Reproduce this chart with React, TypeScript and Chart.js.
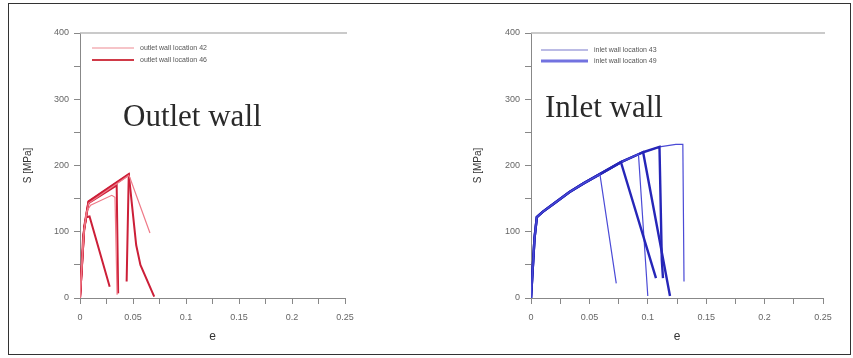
import React, { useEffect, useRef } from "react";
import { Chart, registerables } from "chart.js";
Chart.register(...registerables);

// ---------- data: outlet wall (strain e, stress S [MPa]) ----------
const outlet42A: number[][] = [[0, 0], [0.003, 90], [0.006, 130], [0.01, 140], [0.03, 155], [0.033, 152], [0.035, 5]];
const outlet42B: number[][] = [[0, 0], [0.004, 105], [0.008, 143], [0.046, 185], [0.047, 182], [0.066, 98]];
const outlet46A: number[][] = [[0, 0], [0.003, 95], [0.006, 122], [0.009, 123], [0.028, 17]];
const outlet46B: number[][] = [[0, 0], [0.004, 105], [0.008, 143], [0.0346, 170], [0.036, 7]];
const outlet46C: number[][] = [[0, 0], [0.004, 105], [0.008, 145], [0.046, 186], [0.044, 25]];
const outlet46D: number[][] = [[0, 0], [0.004, 108], [0.008, 146], [0.046, 187], [0.053, 80], [0.057, 50], [0.07, 2]];

// ---------- data: inlet wall ----------
const inletHardE = [0, 0.003, 0.005, 0.01, 0.02, 0.033, 0.045, 0.059, 0.077, 0.092, 0.096, 0.11, 0.124];
const inletHardS = [0, 90, 122, 130, 143, 160, 173, 187, 205, 217, 220, 228, 232];
const inlet43A: number[][] = [[0.059, 187], [0.073, 22]];
const inlet49A: number[][] = [[0.077, 205], [0.107, 30]];
const inlet43B: number[][] = [[0.092, 217], [0.1, 3]];
const inlet49B: number[][] = [[0.096, 220], [0.119, 3]];
const inlet49C: number[][] = [[0.11, 228], [0.112, 57], [0.113, 30]];
const inlet43C: number[][] = [[0.124, 232], [0.13, 232], [0.131, 25]];

// ---------- axis ticks ----------
const yTicks = [0, 100, 200, 300, 400];
const xTickLabels = ["0", "0.05", "0.1", "0.15", "0.2", "0.25"];

// ---------- legends / labels ----------
const outletLegend = ["outlet wall location 42", "outlet wall location 46"];
const inletLegend = ["inlet wall location 43", "inlet wall location 49"];

function curveUpTo(ptsE: number[], ptsS: number[], tail: number[][]) {
  const endE = tail[0][0];
  const out: { x: number; y: number }[] = [];
  for (let i = 0; i < ptsE.length; i++) {
    if (ptsE[i] < endE) out.push({ x: ptsE[i], y: ptsS[i] });
  }
  tail.forEach((p) => out.push({ x: p[0], y: p[1] }));
  return out;
}
const toXY = (a: number[][]) => a.map((p) => ({ x: p[0], y: p[1] }));

type Panel = {
  left: number;
  width: number;
  padLeft: number;
  padRight: number;
  yWidth: number;
  datasets: any[];
  legend: string[];
  legendColors: string[];
  legendWidths: number[];
  legendX: number;
  legendY: number[];
  legendLen: number;
  note: string;
  noteX: number;
  noteY: number;
};

function ChartPanel({ p }: { p: Panel }) {
  const ref = useRef<HTMLCanvasElement>(null);
  useEffect(() => {
    if (!ref.current) return;
    const overlay = {
      id: "overlay",
      afterDraw(chart: any) {
        const ctx = chart.ctx;
        const a = chart.chartArea;
        ctx.save();
        // top frame line
        ctx.strokeStyle = "#b8b8b8";
        ctx.lineWidth = 1.5;
        ctx.beginPath();
        ctx.moveTo(a.left, a.top);
        ctx.lineTo(a.right + 2, a.top);
        ctx.stroke();
        // legend
        ctx.font = "7px 'Liberation Sans', sans-serif";
        ctx.textBaseline = "middle";
        p.legend.forEach((t, i) => {
          const y = p.legendY[i];
          ctx.strokeStyle = p.legendColors[i];
          ctx.lineWidth = p.legendWidths[i];
          ctx.beginPath();
          ctx.moveTo(p.legendX - p.left, y);
          ctx.lineTo(p.legendX - p.left + p.legendLen, y);
          ctx.stroke();
          ctx.fillStyle = "#555";
          ctx.fillText(t, p.legendX - p.left + p.legendLen + 6, y);
        });
        // annotation
        ctx.font = "31px 'Liberation Serif', serif";
        ctx.fillStyle = "#2a2a2a";
        ctx.textBaseline = "alphabetic";
        ctx.fillText(p.note, p.noteX - p.left, p.noteY);
        ctx.restore();
      },
    };
    const chart = new Chart(ref.current, {
      type: "scatter",
      data: { datasets: p.datasets },
      plugins: [overlay],
      options: {
        animation: false,
        responsive: false,
        maintainAspectRatio: false,
        layout: { padding: { top: 33, left: p.padLeft, right: p.padRight, bottom: 10 } },
        plugins: { legend: { display: false }, tooltip: { enabled: false } },
        elements: { point: { radius: 0 }, line: { tension: 0 } },
        scales: {
          x: {
            type: "linear",
            min: 0,
            max: 0.25,
            afterFit: (s: any) => {
              s.height = 50;
            },
            ticks: {
              stepSize: 0.025,
              autoSkip: false,
              maxRotation: 0,
              padding: 8,
              color: "#666",
              font: { size: 9, family: "'Liberation Sans', sans-serif" },
              callback: (v: any) => {
                const k = Math.round(Number(v) / 0.025);
                return k % 2 === 0 ? xTickLabels[k / 2] : "";
              },
            },
            grid: { display: true, drawOnChartArea: false, drawTicks: true, tickLength: 6, color: "#888" },
            border: { display: true, color: "#888", width: 1 },
            title: { display: true, text: "e", color: "#333", font: { size: 12, family: "'Liberation Sans', sans-serif" }, padding: { top: 0, bottom: 4 } },
          },
          y: {
            type: "linear",
            min: 0,
            max: 400,
            afterFit: (s: any) => {
              s.width = p.yWidth;
            },
            ticks: {
              stepSize: 50,
              autoSkip: false,
              padding: 5,
              color: "#666",
              font: { size: 9, family: "'Liberation Sans', sans-serif" },
              callback: (v: any) => (yTicks.includes(Number(v)) ? String(v) : ""),
            },
            grid: { display: true, drawOnChartArea: false, drawTicks: true, tickLength: 6, color: "#888" },
            border: { display: true, color: "#888", width: 1 },
            title: { display: true, text: "S [MPa]", color: "#333", font: { size: 10, family: "'Liberation Sans', sans-serif" }, padding: { top: 2, bottom: 0 } },
          },
        },
      } as any,
    });
    return () => chart.destroy();
  }, []);
  return (
    <canvas
      ref={ref}
      width={p.width}
      height={358}
      style={{ position: "fixed", left: p.left, top: 0, width: p.width, height: 358 }}
    />
  );
}

const red42 = { borderColor: "#ef7a88", borderWidth: 1.2 };
const red46 = { borderColor: "#cc1f38", borderWidth: 2 };
const blue43 = { borderColor: "#4a4ad6", borderWidth: 1.2 };
const blue49 = { borderColor: "#2626b8", borderWidth: 2.4 };

const outletPanel: Panel = {
  left: 0,
  width: 430,
  padLeft: 20,
  padRight: 85,
  yWidth: 60,
  datasets: [
    { label: outletLegend[0], data: toXY(outlet42A), showLine: true, ...red42 },
    { label: outletLegend[0], data: toXY(outlet42B), showLine: true, ...red42 },
    { label: outletLegend[1], data: toXY(outlet46A), showLine: true, ...red46 },
    { label: outletLegend[1], data: toXY(outlet46B), showLine: true, ...red46 },
    { label: outletLegend[1], data: toXY(outlet46C), showLine: true, ...red46 },
    { label: outletLegend[1], data: toXY(outlet46D), showLine: true, ...red46 },
  ],
  legend: outletLegend,
  legendColors: ["#f6c4c8", "#d03a48"],
  legendWidths: [2, 2],
  legendX: 92,
  legendY: [48, 60],
  legendLen: 42,
  note: "Outlet wall",
  noteX: 123,
  noteY: 126,
};

const inletPanel: Panel = {
  left: 430,
  width: 423,
  padLeft: 40,
  padRight: 30,
  yWidth: 61,
  datasets: [
    { label: inletLegend[0], data: curveUpTo(inletHardE, inletHardS, inlet43A), showLine: true, ...blue43 },
    { label: inletLegend[1], data: curveUpTo(inletHardE, inletHardS, inlet49A), showLine: true, ...blue49 },
    { label: inletLegend[0], data: curveUpTo(inletHardE, inletHardS, inlet43B), showLine: true, ...blue43 },
    { label: inletLegend[1], data: curveUpTo(inletHardE, inletHardS, inlet49B), showLine: true, ...blue49 },
    { label: inletLegend[1], data: curveUpTo(inletHardE, inletHardS, inlet49C), showLine: true, ...blue49 },
    { label: inletLegend[0], data: curveUpTo(inletHardE, inletHardS, inlet43C), showLine: true, ...blue43 },
  ],
  legend: inletLegend,
  legendColors: ["#a4a4dc", "#7272e0"],
  legendWidths: [1.5, 3],
  legendX: 541,
  legendY: [50, 61],
  legendLen: 47,
  note: "Inlet wall",
  noteX: 545,
  noteY: 117,
};

export default function App() {
  return (
    <div>
      <div
        style={{
          position: "fixed",
          left: 8,
          top: 3,
          width: 843,
          height: 352,
          boxSizing: "border-box",
          border: "1px solid #333",
          background: "#fff",
        }}
      />
      <ChartPanel p={outletPanel} />
      <ChartPanel p={inletPanel} />
    </div>
  );
}
